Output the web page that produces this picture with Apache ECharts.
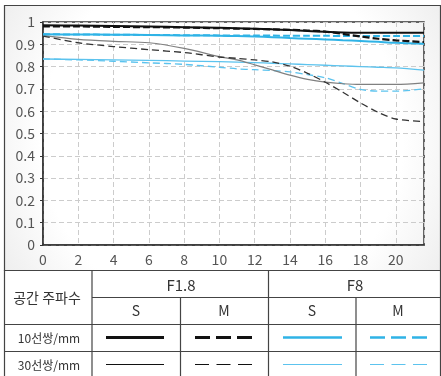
<!DOCTYPE html>
<html>
<head>
<meta charset="utf-8">
<script src="https://cdn.jsdelivr.net/npm/echarts@6/dist/echarts.min.js"></script>
<style>
  html, body { margin: 0; padding: 0; background: #fff; }
  #main { width: 441px; height: 376px; }
</style>
</head>
<body>
<div id="main"></div>
<script>
// 이미지 높이 (mm)
const fieldX = [0, 2, 4, 6, 8, 10, 11, 12, 13, 14, 15, 16, 17, 18, 19, 20, 21.6];

// F1.8 / F8, 10선쌍 & 30선쌍, S / M
const f18S10 = [0.985, 0.984, 0.982, 0.980, 0.977, 0.974, 0.972, 0.970, 0.967, 0.964, 0.960, 0.956, 0.953, 0.952, 0.952, 0.952, 0.952];
const f18M10 = [0.980, 0.980, 0.978, 0.977, 0.975, 0.972, 0.970, 0.969, 0.967, 0.965, 0.962, 0.957, 0.947, 0.935, 0.925, 0.918, 0.910];
const f8S10  = [0.945, 0.944, 0.943, 0.942, 0.940, 0.938, 0.937, 0.935, 0.932, 0.928, 0.925, 0.922, 0.918, 0.915, 0.911, 0.907, 0.903];
const f8M10  = [0.945, 0.944, 0.943, 0.942, 0.941, 0.940, 0.940, 0.939, 0.939, 0.938, 0.938, 0.938, 0.937, 0.937, 0.937, 0.937, 0.937];
const f18S30 = [0.940, 0.922, 0.913, 0.907, 0.882, 0.845, 0.830, 0.808, 0.785, 0.762, 0.743, 0.730, 0.723, 0.720, 0.720, 0.720, 0.727];
const f18M30 = [0.937, 0.907, 0.890, 0.876, 0.863, 0.843, 0.837, 0.830, 0.821, 0.802, 0.770, 0.730, 0.685, 0.637, 0.595, 0.565, 0.553];
const f8S30  = [0.834, 0.832, 0.830, 0.828, 0.825, 0.822, 0.820, 0.818, 0.815, 0.812, 0.809, 0.806, 0.803, 0.800, 0.797, 0.794, 0.784];
const f8M30  = [0.834, 0.830, 0.824, 0.817, 0.810, 0.797, 0.790, 0.786, 0.782, 0.776, 0.764, 0.750, 0.724, 0.698, 0.690, 0.690, 0.700];

const xTicks = { min: 0, max: 21.6, interval: 2 };
const yTicks = { min: 0, max: 1, interval: 0.1 };

const BLUE = '#2fb3e6';
const BLUE_LIGHT = '#5cc3ee';
const FONT = '"Noto Sans CJK KR", "Noto Sans", sans-serif';

function pts(vals) {
  return fieldX.map((x, i) => [x, vals[i]]);
}

function mkSeries(name, vals, color, width, dash) {
  return {
    name: name,
    type: 'line',
    smooth: 0.3,
    symbol: 'none',
    data: pts(vals),
    lineStyle: { color: color, width: width, type: dash || 'solid' },
    z: 3
  };
}

// 표 (범례)
function hline(x1, x2, y) {
  return { type: 'line', shape: { x1: x1, y1: y, x2: x2, y2: y }, style: { stroke: '#444', lineWidth: 1.2 }, silent: true };
}
function vline(x, y1, y2) {
  return { type: 'line', shape: { x1: x, y1: y1, x2: x, y2: y2 }, style: { stroke: '#444', lineWidth: 1.2 }, silent: true };
}
function txt(x, y, s, size) {
  return { type: 'text', x: x, y: y, silent: true,
    style: { text: s, fill: '#333', font: (size || 13) + 'px ' + FONT, textAlign: 'center', textVerticalAlign: 'middle' } };
}
function sample(x1, x2, y, color, w, dash) {
  const st = { stroke: color, lineWidth: w };
  if (dash) st.lineDash = dash;
  return { type: 'line', shape: { x1: x1, y1: y, x2: x2, y2: y }, style: st, silent: true };
}

const tableEls = [
  hline(4.5, 441, 270.5),
  hline(92, 441, 297.5),
  hline(4.5, 441, 324.5),
  hline(4.5, 441, 351.5),
  vline(4.5, 270, 376),
  vline(92, 270, 376),
  vline(268.5, 270, 376),
  vline(180.5, 297, 376),
  vline(356, 297, 376),
  vline(440.5, 270, 376),
  txt(47, 298, '공간 주파수', 14),
  txt(181, 285, 'F1.8', 15),
  txt(355, 285, 'F8', 15),
  txt(136, 311, 'S', 14),
  txt(224, 311, 'M', 14),
  txt(312, 311, 'S', 14),
  txt(398, 311, 'M', 14),
  txt(49, 338, '10선쌍/mm', 12),
  txt(49, 365, '30선쌍/mm', 12),
  sample(106, 164, 337.5, '#111', 3),
  sample(195, 252, 337.5, '#111', 3, [15, 6]),
  sample(283, 342, 337.5, BLUE, 2.5),
  sample(370, 427, 337.5, BLUE, 2.5, [15, 6]),
  sample(106, 164, 364.5, '#111', 1),
  sample(195, 252, 364.5, '#111', 1, [14, 7.5]),
  sample(283, 342, 364.5, BLUE_LIGHT, 1),
  sample(370, 427, 364.5, BLUE_LIGHT, 1, [14, 7.5])
];

const chart = echarts.init(document.getElementById('main'), null, { renderer: 'canvas' });

const option = {
  animation: false,
  backgroundColor: '#fff',
  textStyle: { fontFamily: FONT },
  graphic: {
    elements: [
      {
        type: 'rect', z: -10, silent: true,
        shape: { x: 4.5, y: 5.5, width: 436, height: 265 },
        style: {
          fill: new echarts.graphic.RadialGradient(0.5, 0.5, 1.0, [
            { offset: 0, color: '#ffffff' },
            { offset: 0.68, color: '#ffffff' },
            { offset: 1, color: '#ececec' }
          ]),
          stroke: '#444', lineWidth: 1.2
        }
      }
    ].concat(tableEls)
  },
  grid: {
    left: 43, right: 17, top: 22, bottom: 131,
    show: true, borderColor: '#333', borderWidth: 1.5, backgroundColor: 'transparent'
  },
  xAxis: {
    type: 'value',
    min: xTicks.min, max: xTicks.max, interval: xTicks.interval,
    axisLine: { show: true, lineStyle: { color: '#333', width: 1.5 } },
    axisTick: { show: false },
    axisLabel: {
      color: '#555', fontSize: 14, margin: 8, fontFamily: FONT,
      formatter: v => (Math.abs(v % 2) < 1e-6 ? String(v) : '')
    },
    splitLine: { show: true, lineStyle: { color: '#ccc', type: [5, 3], width: 1 } }
  },
  yAxis: {
    type: 'value',
    min: yTicks.min, max: yTicks.max, interval: yTicks.interval,
    axisLine: { show: true, lineStyle: { color: '#333', width: 1.5 } },
    axisTick: { show: true, length: 3, lineStyle: { color: '#333' } },
    axisLabel: { color: '#555', fontSize: 14, margin: 8, fontFamily: FONT },
    splitLine: { show: true, lineStyle: { color: '#ccc', type: [5, 3], width: 1 } }
  },
  series: [
    mkSeries('F8 M 30', f8M30, BLUE_LIGHT, 1.3, [7, 4]),
    mkSeries('F8 S 30', f8S30, BLUE_LIGHT, 1.3),
    mkSeries('F1.8 S 30', f18S30, '#808080', 1.2),
    mkSeries('F1.8 M 30', f18M30, '#333', 1.3, [7, 4]),
    mkSeries('F8 S 10', f8S10, BLUE, 2),
    mkSeries('F8 M 10', f8M10, BLUE, 2, [7, 3]),
    mkSeries('F1.8 S 10', f18S10, '#111', 2),
    mkSeries('F1.8 M 10', f18M10, '#111', 2.2, [7, 3])
  ]
};

chart.setOption(option);
</script>
</body>
</html>
